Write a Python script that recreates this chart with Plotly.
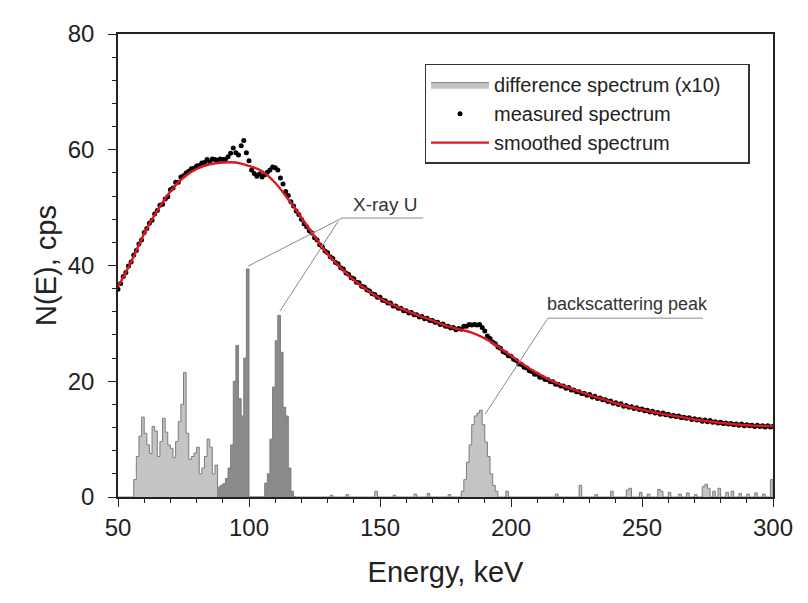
import plotly.graph_objects as go

# ---------------- data ----------------
energy = list(range(50, 301))  # keV, 1 keV channels

measured = [
    35.9, 36.9, 38.1, 38.8, 39.9, 40.6, 41.8, 42.6, 43.7, 44.4,
    45.7, 46.4, 47.3, 47.8, 48.9, 49.5, 50.4, 50.6, 51.5, 51.9,
    53.1, 53.4, 54.4, 54.4, 55.3, 55.5, 56.0, 56.3, 56.7, 56.8,
    57.2, 57.3, 57.7, 57.8, 58.3, 57.9, 58.4, 58.3, 58.2, 58.4,
    58.3, 58.3, 58.8, 59.4, 60.3, 59.5, 59.1, 60.7, 61.6, 59.5,
    58.1, 56.5, 55.9, 55.4, 55.8, 55.3, 55.7, 56.1, 56.5, 57.0,
    56.9, 56.5, 55.1, 54.1, 52.8, 52.1, 51.0, 50.3, 49.4, 48.8,
    48.0, 47.2, 46.7, 46.0, 45.6, 44.8, 44.4, 43.6, 43.2, 42.5,
    42.2, 41.5, 41.2, 40.5, 40.3, 39.6, 39.4, 38.7, 38.5, 37.9,
    37.7, 37.1, 37.0, 36.4, 36.3, 35.8, 35.6, 35.1, 35.0, 34.5,
    34.5, 34.0, 33.9, 33.5, 33.5, 33.0, 33.0, 32.6, 32.6, 32.2,
    32.2, 31.8, 31.9, 31.5, 31.5, 31.1, 31.2, 30.8, 30.9, 30.5,
    30.5, 30.2, 30.2, 29.8, 29.9, 29.5, 29.5, 29.2, 29.3, 28.9,
    29.1, 29.0, 29.5, 29.5, 29.8, 29.7, 29.8, 29.7, 29.8, 29.3,
    28.7, 27.8, 27.4, 26.8, 26.5, 25.9, 25.7, 25.1, 24.9, 24.4,
    24.3, 23.8, 23.6, 23.0, 22.9, 22.4, 22.3, 21.8, 21.7, 21.2,
    21.2, 20.7, 20.7, 20.3, 20.3, 19.9, 19.9, 19.5, 19.5, 19.2,
    19.2, 18.8, 18.9, 18.5, 18.5, 18.2, 18.2, 17.9, 17.9, 17.6,
    17.7, 17.3, 17.4, 17.0, 17.1, 16.8, 16.8, 16.5, 16.6, 16.2,
    16.3, 16.0, 16.1, 15.7, 15.8, 15.5, 15.6, 15.3, 15.4, 15.1,
    15.2, 14.9, 15.0, 14.7, 14.8, 14.5, 14.6, 14.3, 14.5, 14.2,
    14.3, 14.0, 14.1, 13.9, 14.0, 13.7, 13.8, 13.6, 13.7, 13.4,
    13.5, 13.3, 13.4, 13.1, 13.3, 13.0, 13.2, 12.9, 13.0, 12.8,
    12.9, 12.7, 12.8, 12.6, 12.7, 12.5, 12.6, 12.4, 12.6, 12.3,
    12.5, 12.3, 12.4, 12.2, 12.4, 12.2, 12.3, 12.1, 12.3, 12.1,
    12.2,
]

smooth_energy = list(range(50, 301, 5))
smoothed = [
    36.3, 40.6, 45.5, 49.5, 52.8, 55.2, 56.7, 57.5, 57.8, 57.8,
    57.2, 56.3, 54.3, 51.4, 48.3, 45.0, 42.0, 39.6, 37.5, 35.8,
    34.3, 33.2, 32.2, 31.3, 30.5, 29.6, 29.0, 28.4, 27.4, 26.0,
    24.4, 22.8, 21.4, 20.2, 19.2, 18.4, 17.6, 16.9, 16.2, 15.6,
    15.1, 14.6, 14.2, 13.8, 13.4, 13.1, 12.8, 12.6, 12.4, 12.3,
    12.2,
]

# difference spectrum (x10): non-zero channels, keV -> counts
difference_peaks = {
    56: 3.0, 57: 7.0, 58: 10.5, 59: 13.8, 60: 11.0, 61: 9.0, 62: 7.5, 63: 12.2,
    64: 11.4, 65: 7.0, 66: 9.6, 67: 13.6, 68: 11.2, 69: 9.0, 70: 8.4, 71: 6.8,
    72: 9.6, 73: 13.0, 74: 16.0, 75: 21.5, 76: 11.0, 77: 6.5, 78: 7.0, 79: 7.6,
    80: 8.6, 81: 4.0, 82: 5.0, 83: 7.0, 84: 10.0, 85: 8.6, 86: 4.0, 87: 5.5,
    88: 1.7, 89: 2.0, 90: 2.3, 91: 3.2, 92: 5.0, 93: 9.0, 94: 20.0, 95: 26.2,
    96: 17.0, 97: 14.0, 98: 24.0, 99: 39.4,
    106: 2.4, 107: 4.0, 108: 10.0, 109: 19.0, 110: 27.0, 111: 31.4, 112: 25.0,
    113: 15.5, 114: 14.0, 115: 5.0, 116: 1.0,
    131: 0.3, 137: 0.4, 148: 1.0, 155: 0.3, 163: 0.5, 168: 0.6, 176: 0.4,
    181: 1.0, 182: 3.0, 183: 6.0, 184: 9.0, 185: 12.5, 186: 14.0, 187: 14.5,
    188: 15.0, 189: 12.5, 190: 9.5, 191: 7.0, 192: 4.0, 193: 2.0, 194: 1.0,
    198: 1.0, 217: 0.5, 226: 2.0, 232: 0.4, 238: 1.0, 244: 1.2, 245: 1.5,
    249: 0.8, 252: 0.5, 256: 1.3, 257: 1.0, 260: 0.8, 264: 0.5, 267: 0.7,
    270: 0.4, 273: 1.8, 274: 2.2, 275: 1.5, 277: 1.0, 279: 1.5, 282: 0.8,
    284: 1.0, 287: 0.6, 290: 0.5, 293: 0.7, 296: 0.5, 299: 3.0,
}
difference = [difference_peaks.get(e, 0.0) for e in energy]

x_ticks = [50, 100, 150, 200, 250, 300]
y_ticks = [0, 20, 40, 60, 80]
x_minor = list(range(50, 301, 10))
y_minor = list(range(0, 81, 4))

# ---------------- styling ----------------
FONT = "Liberation Sans, Arial, sans-serif"
TXT = "#222222"
XRAY_BAND = (88, 117)   # channels shaded darker (U X-ray lines)
PAD = "\u00a0" * 4      # extra right padding inside the legend box

light_vals = [0.0 if XRAY_BAND[0] <= e <= XRAY_BAND[1] else v
              for e, v in zip(energy, difference)]
dark_x = [e for e in energy if XRAY_BAND[0] <= e <= XRAY_BAND[1] + 1]
dark_vals = [difference[energy.index(e)] if e <= XRAY_BAND[1] else 0.0 for e in dark_x]

fig = go.Figure()

fig.add_trace(go.Scatter(
    x=energy, y=light_vals, mode="lines", line_shape="hv",
    fill="tozeroy", fillcolor="#c4c4c4",
    line=dict(color="#7c7c7c", width=1),
    name="difference spectrum (x10)" + PAD,
))
fig.add_trace(go.Scatter(
    x=dark_x, y=dark_vals, mode="lines", line_shape="hv",
    fill="tozeroy", fillcolor="#8a8a8a",
    line=dict(color="#7c7c7c", width=1),
    showlegend=False, name="difference (U X-ray)",
))
fig.add_trace(go.Scatter(
    x=energy, y=measured, mode="markers",
    marker=dict(color="black", size=5),
    name="measured spectrum",
))
fig.add_trace(go.Scatter(
    x=smooth_energy, y=smoothed, mode="lines", line_shape="spline",
    line=dict(color="#dc1820", width=2.4),
    name="smoothed spectrum",
))

# annotation leader lines (data coordinates)
lead = dict(color="#8a8a8a", width=1)
shapes = [
    dict(type="line", xref="x", yref="y", x0=135.5, y0=48.2, x1=166.5, y1=48.2, line=lead),
    dict(type="line", xref="x", yref="y", x0=135.5, y0=48.2, x1=99.7, y1=39.9, line=lead),
    dict(type="line", xref="x", yref="y", x0=134.0, y0=47.6, x1=111.8, y1=32.1, line=lead),
    dict(type="line", xref="x", yref="y", x0=214.1, y0=30.9, x1=273.3, y1=30.9, line=lead),
    dict(type="line", xref="x", yref="y", x0=214.1, y0=30.9, x1=190.1, y1=14.3, line=lead),
]

annotations = [
    dict(x=152, y=50.6, xref="x", yref="y", text="X-ray U", showarrow=False,
         font=dict(family=FONT, size=19, color="#333333")),
    dict(x=244.5, y=33.3, xref="x", yref="y", text="backscattering peak", showarrow=False,
         font=dict(family=FONT, size=18, color="#333333")),
]

axis_common = dict(
    showgrid=False, zeroline=False, showline=True, linecolor=TXT, linewidth=1.5,
    mirror=True, ticks="outside", tickcolor=TXT, tickwidth=1.2, ticklen=8,
    tickfont=dict(family=FONT, size=24, color=TXT),
)

fig.update_layout(
    width=808, height=603,
    margin=dict(l=110, r=43, t=18, b=114),
    paper_bgcolor="white", plot_bgcolor="white",
    font=dict(family=FONT, color=TXT),
    shapes=shapes, annotations=annotations,
    legend=dict(
        x=0.468, y=0.936, xanchor="left", yanchor="top",
        bgcolor="white", bordercolor="#333333", borderwidth=1.5,
        font=dict(family=FONT, size=20, color=TXT),
        itemwidth=58, tracegroupgap=0,
    ),
    xaxis=dict(
        range=[50, 300], tickvals=x_ticks,
        minor=dict(tickvals=x_minor, ticks="outside", ticklen=4, tickcolor=TXT),
        title=dict(text="Energy, keV", font=dict(family=FONT, size=29, color=TXT),
                   standoff=22),
        **axis_common,
    ),
    yaxis=dict(
        range=[0, 80], tickvals=y_ticks, ticklabelstandoff=9,
        minor=dict(tickvals=y_minor, ticks="outside", ticklen=4, tickcolor=TXT),
        title=dict(text="N(E), cps", font=dict(family=FONT, size=29, color=TXT),
                   standoff=3),
        **axis_common,
    ),
)

fig.write_html("out.html")
